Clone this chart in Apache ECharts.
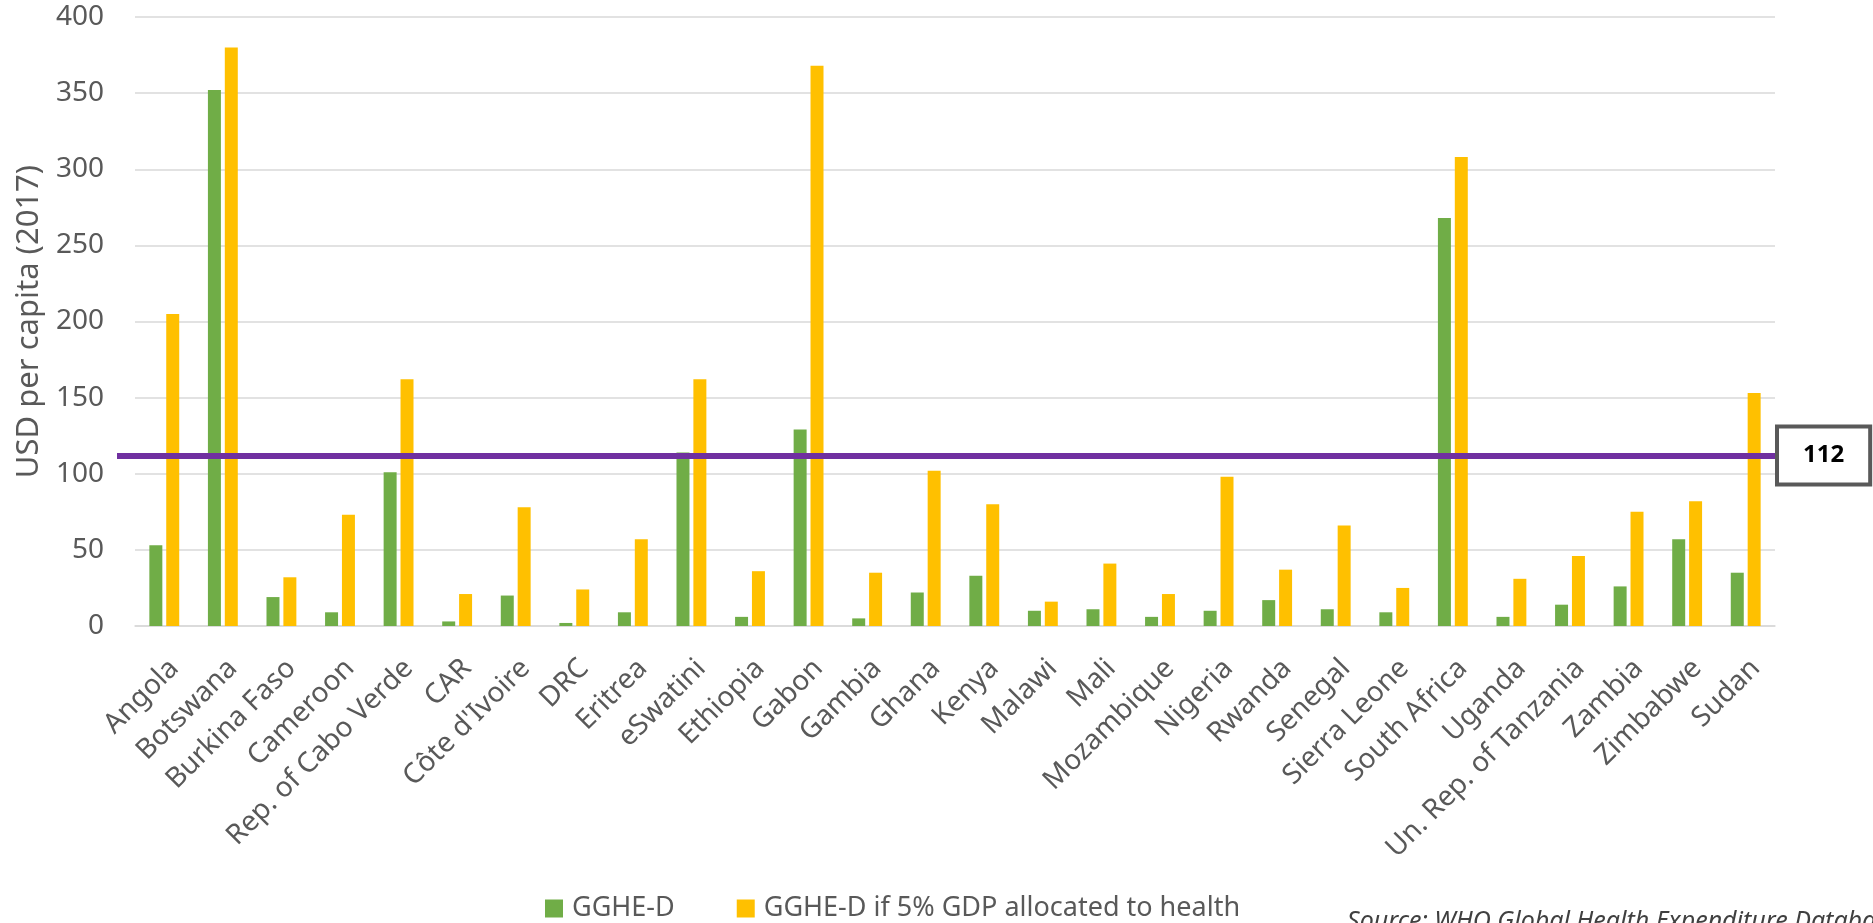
<!DOCTYPE html>
<html>
<head>
<meta charset="utf-8">
<script src="https://cdn.jsdelivr.net/npm/echarts@6/dist/echarts.min.js"></script>
<style>
  html, body { margin: 0; padding: 0; background: #fff; }
  #chart { width: 1873px; height: 923px; }
</style>
</head>
<body>
<div id="chart"></div>
<script>
// country list, same order as the source chart
let countries = [
  'Angola', 'Botswana', 'Burkina Faso', 'Cameroon', 'Rep. of Cabo Verde', 'CAR',
  "Côte d'Ivoire", 'DRC', 'Eritrea', 'eSwatini', 'Ethiopia', 'Gabon', 'Gambia',
  'Ghana', 'Kenya', 'Malawi', 'Mali', 'Mozambique', 'Nigeria', 'Rwanda', 'Senegal',
  'Sierra Leone', 'South Africa', 'Uganda', 'Un. Rep. of Tanzania', 'Zambia',
  'Zimbabwe', 'Sudan'
]
// USD per capita (2017)
let ggheD = [53, 352, 19, 9, 101, 3, 20, 2, 9, 114, 6, 129, 5, 22, 33, 10, 11, 6, 10, 17, 11, 9, 268, 6, 14, 26, 57, 35]
let ggheD5pct = [205, 380, 32, 73, 162, 21, 78, 24, 57, 162, 36, 368, 35, 102, 80, 16, 41, 21, 98, 37, 66, 25, 308, 31, 46, 75, 82, 153]
let seriesNames = ['GGHE-D', 'GGHE-D if 5% GDP allocated to health']
let threshold = 112
let yTicks = { min: 0, max: 400, step: 50 }
let yTitle = 'USD per capita (2017)'
let sourceNote = 'Source: WHO Global Health Expenditure Database'

let font = "'Noto Sans', 'Open Sans', sans-serif"
let gray = '#595959'
let gridColor = '#D9D9D9'

let chart = echarts.init(document.getElementById('chart'))

chart.setOption({
  animation: false,
  textStyle: { fontFamily: font },
  grid: [
    { left: 135, right: 98, top: 17, bottom: 297 },
    // second grid only carries the reference line (it starts a bit further left)
    { left: 117, right: 96, top: 17, bottom: 297 }
  ],
  legend: {
    data: seriesNames,
    left: 540,
    top: 890,
    icon: 'rect',
    itemWidth: 18,
    itemHeight: 18,
    itemGap: 62,
    textStyle: { fontSize: 27, color: gray, padding: [0, 0, 0, 4] }
  },
  xAxis: [
    {
      type: 'category',
      gridIndex: 0,
      data: countries,
      axisTick: { show: false },
      axisLine: { lineStyle: { color: gridColor, width: 1.5 } },
      axisLabel: {
        interval: 0,
        rotate: 45,
        align: 'right',
        verticalAlign: 'top',
        fontSize: 28,
        color: gray,
        margin: 28
      }
    },
    { type: 'value', gridIndex: 1, min: 0, max: 1, show: false }
  ],
  yAxis: [
    {
      type: 'value',
      gridIndex: 0,
      min: yTicks.min,
      max: yTicks.max,
      interval: yTicks.step,
      name: yTitle,
      nameLocation: 'middle',
      nameGap: 86,
      nameTextStyle: { fontSize: 31, color: gray },
      axisLine: { show: false },
      axisTick: { show: false },
      axisLabel: { fontSize: 28, color: gray, margin: 31 },
      splitLine: { lineStyle: { color: gridColor, width: 1.5 } }
    },
    { type: 'value', gridIndex: 1, min: yTicks.min, max: yTicks.max, show: false }
  ],
  series: [
    {
      name: seriesNames[0],
      type: 'bar',
      data: ggheD,
      barGap: '30%',
      barCategoryGap: '49%',
      itemStyle: { color: '#70AD47' }
    },
    {
      name: seriesNames[1],
      type: 'bar',
      data: ggheD5pct,
      barGap: '30%',
      barCategoryGap: '49%',
      itemStyle: { color: '#FFC000' }
    },
    {
      type: 'line',
      xAxisIndex: 1,
      yAxisIndex: 1,
      data: [],
      silent: true,
      z: 5,
      markLine: {
        symbol: 'none',
        silent: true,
        lineStyle: { color: '#7030A0', width: 6, type: 'solid' },
        label: {
          show: true,
          position: 'end',
          distance: 2,
          formatter: String(threshold),
          color: '#000',
          fontWeight: 'bold',
          fontSize: 24,
          lineHeight: 24,
          backgroundColor: '#fff',
          borderColor: gray,
          borderWidth: 4,
          padding: [15, 24]
        },
        data: [{ yAxis: threshold }]
      }
    }
  ],
  graphic: [
    {
      type: 'text',
      left: 1347,
      top: 909,
      style: {
        text: sourceNote,
        fontFamily: font,
        fontStyle: 'italic',
        fontSize: 25,
        fill: '#404040'
      }
    }
  ]
})
</script>
</body>
</html>
